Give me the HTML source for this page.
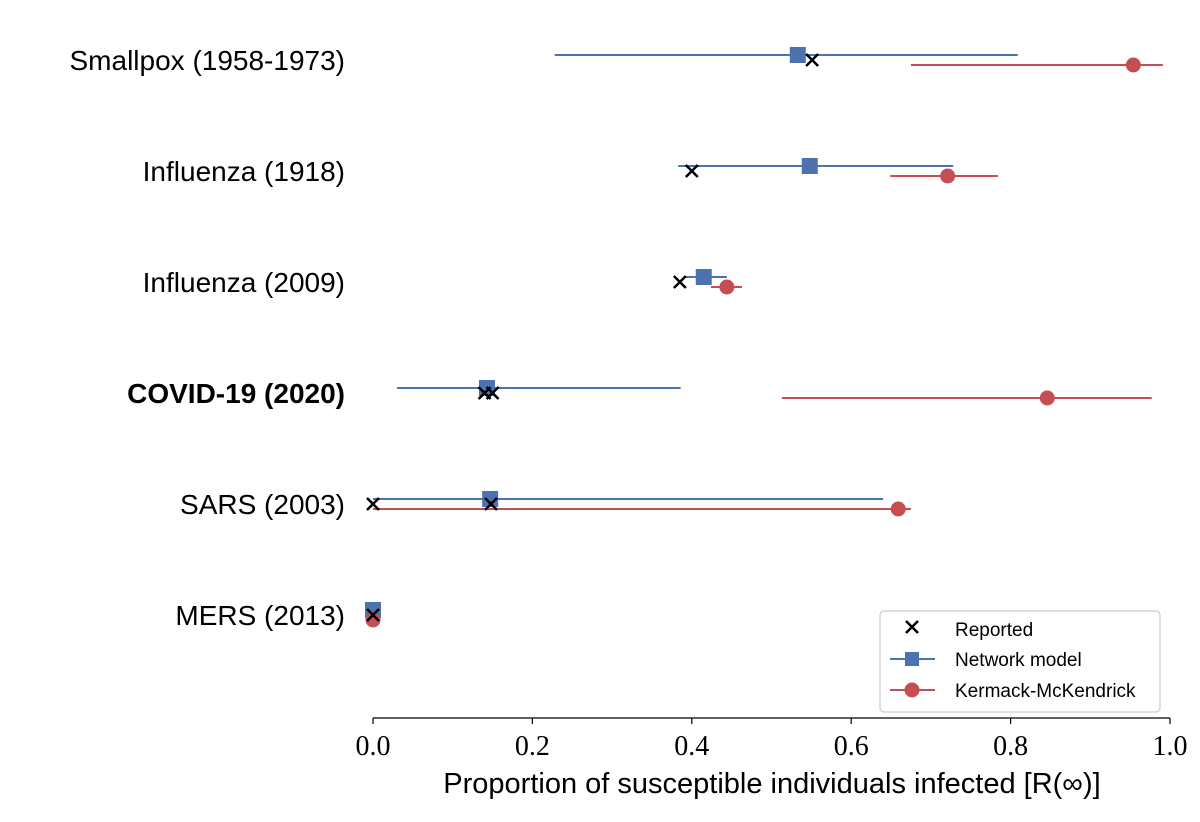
<!DOCTYPE html>
<html><head><meta charset="utf-8"><style>
body{margin:0;background:#fff;}
svg text{font-family:"Liberation Sans",sans-serif;}
</style></head><body>
<svg id="chart" width="1200" height="817">
<g id="labels"></g><g id="marks"></g><g id="axis"></g>
<g>
<rect x="880" y="611" width="280" height="101" rx="4" fill="#fff" stroke="#ccc" stroke-width="1.2"/>
<g>
<path d="M906 621 L918 633 M918 621 L906 633" stroke="#000" stroke-width="2.5"/>
<text x="955" y="636" font-size="19">Reported</text></g>
<g>
<line x1="890" y1="659" x2="935" y2="659" stroke="#4c72b0" stroke-width="2"/>
<rect x="905" y="652" width="14" height="14" fill="#4c72b0"/>
<text x="955" y="666" font-size="19">Network model</text></g>
<g>
<line x1="890" y1="690" x2="935" y2="690" stroke="#c44e52" stroke-width="2"/>
<circle cx="912" cy="690" r="7.5" fill="#c44e52"/>
<text x="955" y="697" font-size="19">Kermack-McKendrick</text></g>
</g>
</svg>
<script>
const categories=["Smallpox (1958-1973)","Influenza (1918)","Influenza (2009)","COVID-19 (2020)","SARS (2003)","MERS (2013)"];
const netLo=[0.228,0.383,0.390,0.030,0.0,0.0];
const netHi=[0.809,0.728,0.444,0.386,0.640,0.0];
const netVal=[0.533,0.548,0.415,0.143,0.147,0.0];
const kmLo=[0.675,0.649,0.424,0.513,0.0,0.0];
const kmHi=[0.991,0.784,0.463,0.977,0.675,0.0];
const kmVal=[0.954,0.721,0.444,0.846,0.659,0.0];
const reported=[[0.551],[0.400],[0.385],[0.140,0.150],[0.0,0.148],[0.0]];
const xTicks=[0,0.2,0.4,0.6,0.8,1.0];
const xTickLabels=["0.0","0.2","0.4","0.6","0.8","1.0"];
const NS="http://www.w3.org/2000/svg";
const X0=373,X1=1170,AXY=718;
const xs=v=>X0+(X1-X0)*v;
const ys=i=>60+111*i;
function mk(tag,attrs,parent){const e=document.createElementNS(NS,tag);for(const k in attrs)e.setAttribute(k,attrs[k]);parent.appendChild(e);return e;}
const L=document.getElementById('labels'),M=document.getElementById('marks'),A=document.getElementById('axis');
categories.forEach((c,i)=>{
  const y=ys(i);
  const t=mk('text',{x:345,y:y+10,'font-size':28,'text-anchor':'end','font-weight':c.startsWith('COVID')?'bold':'normal'},L);
  t.textContent=c;
  
  
  const g=mk('g',{},M);
  
  
  const bl=mk('line',{x1:xs(netLo[i]),x2:xs(netHi[i]),y1:y-5,y2:y-5,stroke:'#4c72b0','stroke-width':2},g);
  
  
  const rl=mk('line',{x1:xs(kmLo[i]),x2:xs(kmHi[i]),y1:y+5,y2:y+5,stroke:'#c44e52','stroke-width':2},g);
  
  
  const sq=mk('rect',{x:xs(netVal[i])-8,y:y-13,width:16,height:16,fill:'#4c72b0'},g);
  
  
  const ci=mk('circle',{cx:xs(kmVal[i]),cy:y+5,r:7.5,fill:'#c44e52'},g);
  
  
  reported[i].forEach(v=>{
    const cx=xs(v),cy=y;
    const p=mk('path',{d:`M${cx-6} ${cy-6} L${cx+6} ${cy+6} M${cx+6} ${cy-6} L${cx-6} ${cy+6}`,stroke:'#000','stroke-width':2.5},g);
    
    
  });
});
const ax=mk('line',{x1:X0,x2:X1,y1:AXY,y2:AXY,stroke:'#000','stroke-width':1.2},A);


xTicks.forEach((v,i)=>{
  mk('line',{x1:xs(v),x2:xs(v),y1:AXY,y2:AXY+6,stroke:'#000','stroke-width':1.2},A);
  const t=mk('text',{x:xs(v),y:AXY+37,'font-size':28,'text-anchor':'middle',style:'font-family:"Liberation Serif",serif'},A);
  t.textContent=xTickLabels[i];
  
  
});
const xt=mk('text',{x:772,y:793,'font-size':29,'text-anchor':'middle'},A);
xt.textContent='Proportion of susceptible individuals infected [R(∞)]';


</script>
</body></html>
